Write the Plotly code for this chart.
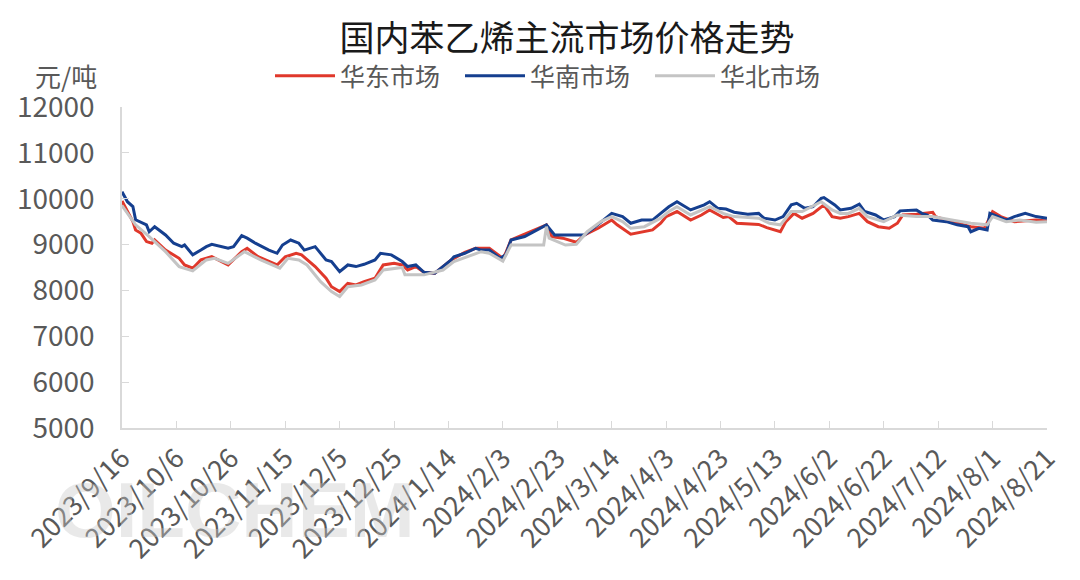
import plotly.graph_objects as go

# ---- data (元/吨) ----
east_dates = ["2023-09-16","2023-09-18","2023-09-20","2023-09-21","2023-09-23","2023-09-25","2023-09-27","2023-09-28",
              "2023-10-02","2023-10-07","2023-10-09","2023-10-12","2023-10-15","2023-10-19","2023-10-25","2023-10-30",
              "2023-11-01","2023-11-05","2023-11-12","2023-11-15","2023-11-19","2023-11-21","2023-11-26","2023-11-30",
              "2023-12-02","2023-12-05","2023-12-08","2023-12-11","2023-12-14","2023-12-18","2023-12-21","2023-12-25",
              "2023-12-28","2023-12-30","2024-01-02","2024-01-05","2024-01-09","2024-01-12","2024-01-15","2024-01-20",
              "2024-01-24","2024-01-29","2024-02-03","2024-02-04","2024-02-06","2024-02-19","2024-02-21","2024-02-25",
              "2024-03-01","2024-03-04","2024-03-09","2024-03-14","2024-03-16","2024-03-21","2024-03-25","2024-03-29",
              "2024-04-01","2024-04-03","2024-04-07","2024-04-12","2024-04-16","2024-04-19","2024-04-24","2024-04-26",
              "2024-04-29","2024-05-07","2024-05-10","2024-05-15","2024-05-17","2024-05-20","2024-05-23","2024-05-27",
              "2024-05-31","2024-06-03","2024-06-06","2024-06-09","2024-06-13","2024-06-16","2024-06-20","2024-06-24",
              "2024-06-27","2024-06-29","2024-07-04","2024-07-10","2024-07-11","2024-07-17","2024-07-24","2024-07-29",
              "2024-08-01","2024-08-04","2024-08-09","2024-08-17","2024-08-21"]
east = [9950,9720,9500,9320,9245,9065,9030,9100,
        8880,8700,8555,8485,8665,8735,8555,8845,
        8920,8735,8555,8735,8810,8775,8520,8265,
        8080,7975,8155,8120,8190,8265,8555,8590,
        8555,8445,8520,8395,8375,8520,8665,8830,
        8920,8920,8700,8810,9100,9430,9175,9140,
        9050,9210,9355,9535,9430,9225,9280,9320,
        9465,9610,9720,9535,9645,9755,9590,9610,
        9465,9440,9370,9280,9500,9680,9575,9680,
        9865,9610,9575,9610,9680,9500,9390,9355,
        9465,9645,9660,9705,9610,9500,9390,9355,
        9720,9610,9500,9535,9515]

south_dates = ["2023-09-16","2023-09-18","2023-09-20","2023-09-21","2023-09-25","2023-09-26","2023-09-28","2023-10-02",
               "2023-10-05","2023-10-08","2023-10-09","2023-10-12","2023-10-15","2023-10-17","2023-10-19","2023-10-25",
               "2023-10-27","2023-10-30","2023-11-01","2023-11-04","2023-11-09","2023-11-12","2023-11-14","2023-11-17",
               "2023-11-20","2023-11-22","2023-11-26","2023-11-30","2023-12-02","2023-12-05","2023-12-08","2023-12-11",
               "2023-12-14","2023-12-18","2023-12-20","2023-12-24","2023-12-28","2023-12-30","2024-01-02","2024-01-05",
               "2024-01-09","2024-01-12","2024-01-15","2024-01-16","2024-01-20","2024-01-24","2024-01-26","2024-01-29",
               "2024-02-02","2024-02-04","2024-02-06","2024-02-11","2024-02-19","2024-02-22","2024-03-04","2024-03-08",
               "2024-03-14","2024-03-18","2024-03-21","2024-03-25","2024-03-29","2024-04-01","2024-04-04","2024-04-07",
               "2024-04-09","2024-04-12","2024-04-17","2024-04-19","2024-04-22","2024-04-25","2024-04-28","2024-05-03",
               "2024-05-07","2024-05-09","2024-05-13","2024-05-16","2024-05-19","2024-05-21","2024-05-24","2024-05-27",
               "2024-05-30","2024-05-31","2024-06-04","2024-06-06","2024-06-10","2024-06-13","2024-06-15","2024-06-19",
               "2024-06-22","2024-06-26","2024-06-28","2024-07-04","2024-07-06","2024-07-08","2024-07-10","2024-07-15",
               "2024-07-19","2024-07-23","2024-07-24","2024-07-27","2024-07-30","2024-07-31","2024-08-03","2024-08-06",
               "2024-08-09","2024-08-13","2024-08-17","2024-08-21"]
south = [10150,9935,9830,9540,9430,9280,9390,9210,
         9030,8955,8990,8775,8880,8955,9005,8920,
         8955,9195,9140,9030,8880,8810,8990,9100,
         9030,8880,8955,8665,8630,8410,8555,8520,
         8570,8665,8810,8775,8630,8520,8555,8395,
         8375,8520,8665,8735,8810,8920,8880,8880,
         8700,8775,9100,9175,9430,9210,9210,9390,
         9680,9610,9465,9535,9535,9680,9825,9935,
         9865,9755,9865,9935,9790,9775,9705,9660,
         9680,9575,9535,9610,9865,9900,9790,9825,
         10010,10025,9865,9755,9790,9880,9720,9645,
         9535,9610,9735,9755,9680,9645,9535,9500,
         9430,9390,9280,9355,9320,9680,9610,9535,
         9610,9680,9610,9575]

north_dates = ["2023-09-16","2023-09-19","2023-09-21","2023-09-26","2023-10-02","2023-10-07","2023-10-12","2023-10-17",
               "2023-10-20","2023-10-25","2023-10-31","2023-11-06","2023-11-13","2023-11-16","2023-11-20","2023-11-23",
               "2023-11-28","2023-12-02","2023-12-05","2023-12-08","2023-12-13","2023-12-18","2023-12-21","2023-12-28",
               "2023-12-29","2024-01-05","2024-01-12","2024-01-16","2024-01-26","2024-01-29","2024-02-03","2024-02-06",
               "2024-02-18","2024-02-19","2024-02-20","2024-02-26","2024-03-01","2024-03-05","2024-03-10","2024-03-14",
               "2024-03-18","2024-03-21","2024-03-26","2024-04-01","2024-04-04","2024-04-07","2024-04-12","2024-04-19",
               "2024-04-24","2024-04-28","2024-05-07","2024-05-11","2024-05-15","2024-05-19","2024-05-23","2024-05-30",
               "2024-06-03","2024-06-06","2024-06-09","2024-06-13","2024-06-16","2024-06-22","2024-06-27","2024-07-04",
               "2024-07-10","2024-07-17","2024-07-24","2024-07-30","2024-08-01","2024-08-06","2024-08-11","2024-08-17",
               "2024-08-21"]
north = [9850,9610,9430,9175,8845,8520,8425,8665,
         8700,8590,8845,8665,8485,8700,8665,8555,
         8190,7975,7865,8080,8120,8230,8445,8500,
         8340,8340,8445,8630,8845,8810,8640,8990,
         8990,9390,9140,8990,9005,9280,9500,9610,
         9500,9355,9390,9575,9720,9825,9645,9825,
         9680,9610,9575,9465,9430,9720,9720,9935,
         9755,9680,9680,9790,9610,9500,9645,9610,
         9610,9535,9465,9430,9610,9500,9535,9485,
         9500]

series_names = ["华东市场", "华南市场", "华北市场"]
series_colors = ["#E0382B", "#153F8F", "#C4C4C4"]
y_ticks = [5000, 6000, 7000, 8000, 9000, 10000, 11000, 12000]

FONT = "Noto Sans CJK SC, Microsoft YaHei, sans-serif"
GREY = "#595959"

fig = go.Figure()
for d, v, name, col in zip([east_dates, south_dates, north_dates], [east, south, north],
                           series_names, series_colors):
    fig.add_trace(go.Scatter(x=d, y=v, mode="lines", name=name,
                             line=dict(color=col, width=3)))

fig.update_layout(
    width=1080, height=580,
    paper_bgcolor="white", plot_bgcolor="white",
    margin=dict(l=122, r=33, t=107, b=152, autoexpand=False),
    title=dict(text="国内苯乙烯主流市场价格走势", x=0.525, xanchor="center",
               y=1 - 39/580, yanchor="middle", xref="container", yref="container",
               font=dict(family=FONT, size=35, color="#1a1a1a")),
    legend=dict(orientation="h", x=555/1080, xanchor="center", xref="container",
                y=1 - 76/580, yanchor="middle", yref="container",
                font=dict(family=FONT, size=25, color=GREY),
                itemwidth=60, entrywidth=115, entrywidthmode="pixels",
                traceorder="normal", bgcolor="rgba(0,0,0,0)"),
    font=dict(family=FONT, color=GREY),
    showlegend=True,
)

fig.update_xaxes(
    type="date", range=["2023-09-16", "2024-08-21"],
    tick0="2023-09-16", dtick=20 * 86400000, tickformat="%Y/%-m/%-d",
    tickangle=-45, tickfont=dict(family=FONT, size=27, color=GREY),
    showgrid=False, showline=True, linecolor="#D9D9D9", linewidth=1.5,
    ticks="inside", ticklen=7, tickcolor="#D9D9D9", zeroline=False,
    ticklabelstandoff=2,
)
fig.update_yaxes(
    range=[5000, 12000], tickvals=y_ticks, ticktext=[str(t) for t in y_ticks],
    tickfont=dict(family=FONT, size=28, color=GREY),
    showgrid=False, showline=True, linecolor="#D9D9D9", linewidth=1.5,
    ticks="inside", ticklen=7, tickcolor="#D9D9D9", zeroline=False,
    ticklabelstandoff=20,
)

fig.add_annotation(text="元/吨", xref="paper", yref="paper", x=-(122 - 33) / 925,
                   y=1 + 32/321, xanchor="left", yanchor="middle", showarrow=False,
                   font=dict(family=FONT, size=26, color=GREY))

# faint watermark
fig.add_annotation(text="<b>OILCHEM</b>", xref="paper", yref="paper",
                   x=(235 - 122) / 925, y=-(510 - 428) / 321,
                   xanchor="center", yanchor="middle", showarrow=False,
                   font=dict(family="Liberation Sans, Arial, sans-serif",
                             size=78, color="rgba(200,200,200,0.4)"))

fig.write_html("out.html")
